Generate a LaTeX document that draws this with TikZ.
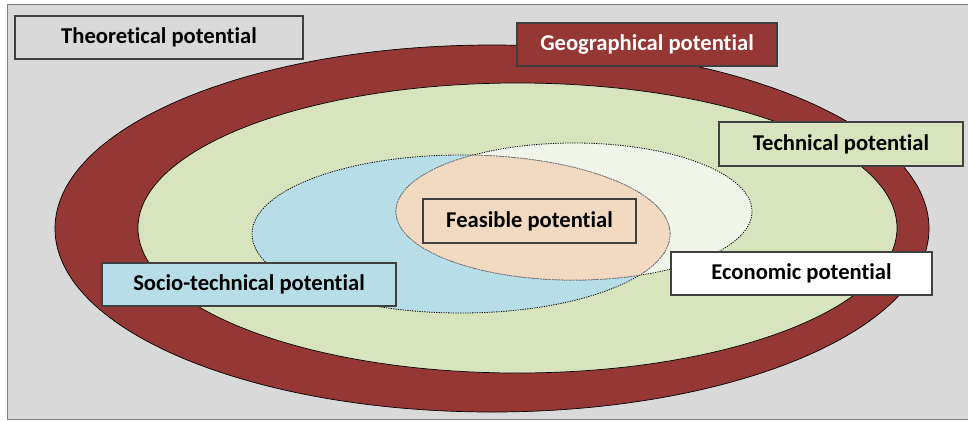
\documentclass[tikz,border=0pt]{standalone}
\usepackage{fontspec}
\setmainfont[Ligatures={NoCommon}]{Carlito}
\definecolor{bggray}{HTML}{D9D9D9}
\definecolor{framegray}{HTML}{808080}
\definecolor{boxedge}{HTML}{404040}
\definecolor{geored}{HTML}{953735}
\definecolor{techgreen}{HTML}{D7E4BD}
\definecolor{sociblue}{HTML}{B7DEE8}
\definecolor{econlight}{HTML}{F1F5E9}
\definecolor{feaspeach}{HTML}{F2D9C2}
\tikzset{
  label box/.style={draw=boxedge, line width=1.2pt, rectangle, inner sep=0pt,
    font=\fontsize{22.6}{26}\selectfont\bfseries},
  ring/.style={draw=black, line width=0.7pt},
  inner dotted/.style={draw=black, line width=0.8pt, dash pattern=on 1.2pt off 1.2pt},
  inner dashed/.style={draw=gray, line width=0.8pt, dash pattern=on 2pt off 1pt}
}
\begin{document}
\begin{tikzpicture}[x=1pt,y=-1pt]
\useasboundingbox (0,0) rectangle (968,421);
% background frame
\fill[white] (0,0) rectangle (968,421);
\draw[fill=bggray, draw=framegray, line width=1pt] (7,4) rectangle (980,419);
% geographical ring
\draw[ring, fill=geored] (492,228.5) ellipse [x radius=437pt, y radius=183.5pt];
% technical
\draw[ring, fill=techgreen] (517.5,228) ellipse [x radius=379.5pt, y radius=145pt];
% socio-technical and economic
\fill[sociblue] (461,234) ellipse [x radius=209pt, y radius=79pt];
\fill[econlight] (574,211.5) ellipse [x radius=178pt, y radius=68.5pt];
\draw[inner dotted] (461,234) ellipse [x radius=209pt, y radius=79pt];
\draw[inner dotted] (574,211.5) ellipse [x radius=178pt, y radius=68.5pt];
% feasible = intersection
\begin{scope}
  \clip (461,234) ellipse [x radius=209pt, y radius=79pt];
  \fill[feaspeach] (574,211.5) ellipse [x radius=178pt, y radius=68.5pt];
  \draw[inner dashed] (574,211.5) ellipse [x radius=178pt, y radius=68.5pt];
\end{scope}
\begin{scope}
  \clip (574,211.5) ellipse [x radius=178pt, y radius=68.5pt];
  \draw[inner dashed] (461,234) ellipse [x radius=209pt, y radius=79pt];
\end{scope}
% labels
\node[label box, fill=bggray, minimum width=288pt, minimum height=43pt] (theo) at (159,37.5) {Theoretical potential};
\node[label box, fill=geored, text=white, minimum width=260pt, minimum height=43pt] (geo) at (647,44.5) {Geographical potential};
\node[label box, fill=techgreen, minimum width=244pt, minimum height=44pt] (tech) at (841,144) {Technical potential};
\node[label box, fill=sociblue, minimum width=294pt, minimum height=43pt] (soc) at (249,284.5) {Socio-technical potential};
\node[label box, fill=white, minimum width=261pt, minimum height=43pt] (econ) at (801.5,273.5) {Economic potential};
\node[label box, fill=feaspeach, minimum width=213pt, minimum height=44pt] (feas) at (529.5,221) {Feasible potential};
\end{tikzpicture}
\end{document}
